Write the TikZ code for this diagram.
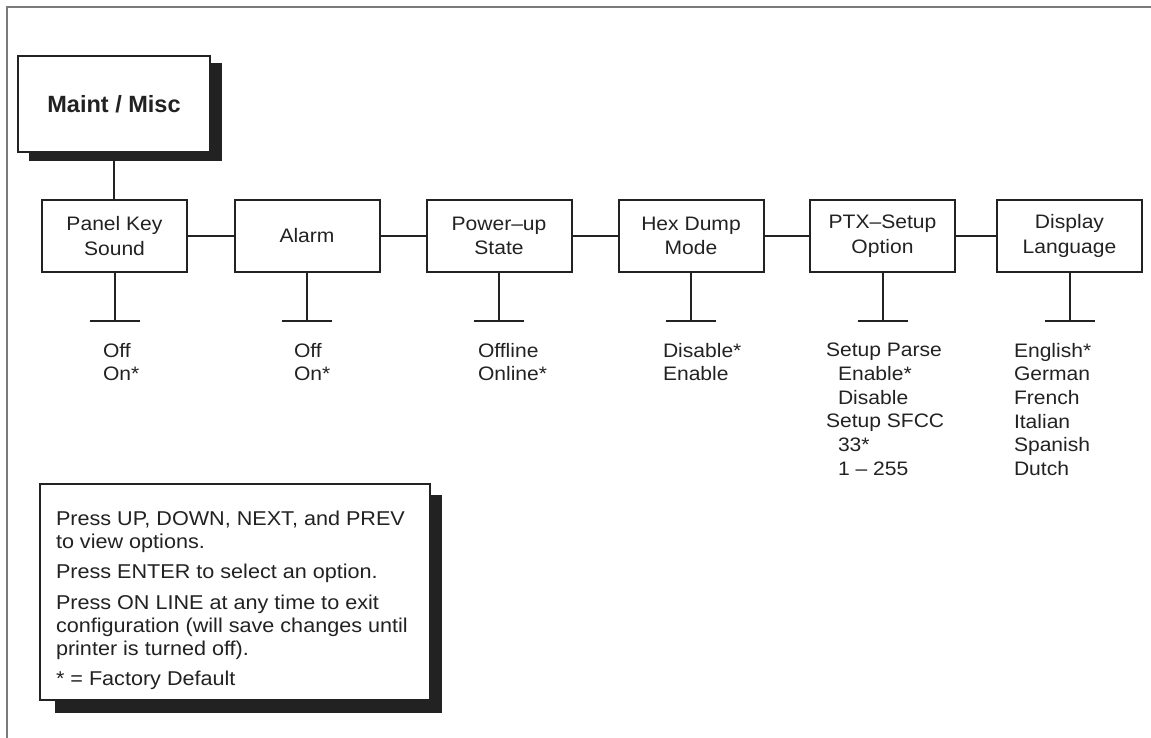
\documentclass[tikz,border=0pt]{standalone}
\usepackage{fontspec}
\setmainfont{Liberation Sans}[FakeStretch=1.08]
\newfontfamily\titlefont{Liberation Sans}
\definecolor{ink}{HTML}{222222}
\definecolor{frame}{HTML}{7A7A7A}
\begin{document}
\begin{tikzpicture}[x=1pt,y=-1pt,line width=2pt,draw=ink,
  menubox/.style={draw=ink, fill=white, minimum width=145pt, minimum height=72pt,
    inner sep=0pt, align=center, text=ink, font=\fontsize{19.5}{24.5}\selectfont},
  topbox/.style={draw=ink, fill=white, minimum width=192pt, minimum height=96pt,
    inner sep=0pt, text=ink, font=\titlefont\bfseries\fontsize{23.5}{28}\selectfont},
  notebox/.style={draw=ink, fill=white, minimum width=390pt, minimum height=216pt,
    inner sep=0pt},
  notetext/.style={anchor=north west, inner sep=0pt, align=left, text=ink,
    font=\fontsize{20}{23}\selectfont},
  shadow/.style={fill=ink, draw=none},
  optlist/.style={anchor=north west, inner sep=0pt, align=left, text=ink,
    font=\fontsize{19.5}{23.7}\selectfont},
  conn/.style={draw=ink, line width=2pt}
]
\useasboundingbox (0,0) rectangle (1151,738);
% frame
\draw[frame, line width=2pt] (7,738) -- (7,7) -- (1151,7);

% top box with shadow
\fill[shadow] (29,63) rectangle (222,161);
\node[topbox] (maint) at (114,104) {Maint / Misc};

% menu boxes
\node[menubox] (panel) at (114.5,236) {Panel Key\\Sound};
\node[menubox] (alarm) at (307,236) {Alarm};
\node[menubox] (power) at (499,236) {Power–up\\State};
\node[menubox] (hex) at (691,236) {Hex Dump\\Mode};
\node[menubox] (ptx) at (882.5,236) {PTX–Setup\\Option};
\node[menubox] (lang) at (1069.5,236) {Display\\Language};

% connectors
\draw[conn] (maint.south) -- (maint.south |- panel.north);
\draw[conn] (panel.east) -- (alarm.west);
\draw[conn] (alarm.east) -- (power.west);
\draw[conn] (power.east) -- (hex.west);
\draw[conn] (hex.east) -- (ptx.west);
\draw[conn] (ptx.east) -- (lang.west);

% stems and bars
\foreach \n in {panel,alarm,power,hex,ptx,lang}{
  \coordinate (\n-t) at ([yshift=-48pt]\n.south);
  \draw[conn] (\n.south) -- (\n-t);
  \draw[conn] ([xshift=-25pt]\n-t) -- ([xshift=25pt]\n-t);
}

% option lists
\node[optlist] (o1) at (102,342) {Off\\On*};
\node[optlist] (o2) at (293,342) {Off\\On*};
\node[optlist] (o3) at (477,342) {Offline\\Online*};
\node[optlist] (o4) at (662,342) {Disable*\\Enable};
\node[optlist] (o5) at (825,342) {Setup Parse\\\hspace*{12pt}Enable*\\\hspace*{12pt}Disable\\Setup SFCC\\\hspace*{12pt}33*\\\hspace*{12pt}1 – 255};
\node[optlist] (o6) at (1013,342) {English*\\German\\French\\Italian\\Spanish\\Dutch};

% note box with shadow
\fill[shadow] (55,495) rectangle (442,713);
\node[notebox] (note) at (235,592) {};
\node[notetext] (notetxt) at ([xshift=16pt,yshift=-27pt]note.north west) {Press UP, DOWN, NEXT, and PREV\\to view options.\\[7.5pt]Press ENTER to select an option.\\[7.5pt]Press ON LINE at any time to exit\\configuration (will save changes until\\printer is turned off).\\[7.5pt]* = Factory Default};
\end{tikzpicture}
\end{document}
